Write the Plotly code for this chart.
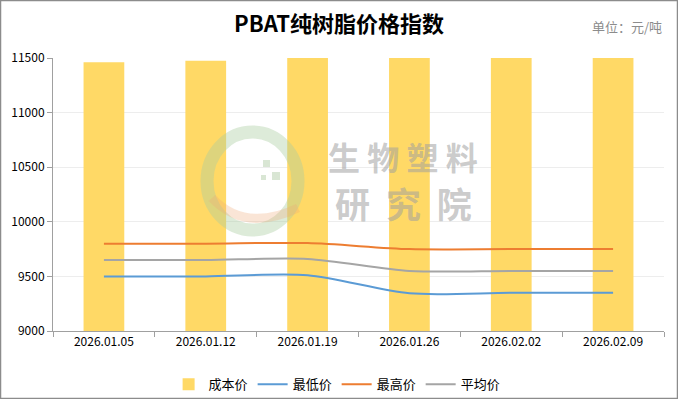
import plotly.graph_objects as go

categories = ["2026.01.05", "2026.01.12", "2026.01.19", "2026.01.26", "2026.02.02", "2026.02.09"]
cost_price = [11460, 11475, 11650, 11650, 11650, 11650]
min_price = [9500, 9500, 9510, 9345, 9350, 9350]
max_price = [9800, 9800, 9805, 9750, 9750, 9750]
avg_price = [9650, 9650, 9660, 9550, 9550, 9550]
y_ticks = [9000, 9500, 10000, 10500, 11000, 11500]
y_tick_text = ["9000", "9500", "10000", "10500", "11000", "11500"]

FONT = "Noto Sans CJK SC, Microsoft YaHei, sans-serif"

fig = go.Figure()
fig.add_trace(go.Bar(x=categories, y=cost_price, name="成本价",
                     marker=dict(color="#FFD966", line=dict(width=0)), width=0.4))
fig.add_trace(go.Scatter(x=categories, y=min_price, name="最低价", mode="lines",
                         line=dict(color="#5B9BD5", width=2, shape="spline", smoothing=0.8)))
fig.add_trace(go.Scatter(x=categories, y=max_price, name="最高价", mode="lines",
                         line=dict(color="#ED7D31", width=2, shape="spline", smoothing=0.8)))
fig.add_trace(go.Scatter(x=categories, y=avg_price, name="平均价", mode="lines",
                         line=dict(color="#A5A5A5", width=2, shape="spline", smoothing=0.8)))

fig.update_layout(
    width=678, height=399,
    margin=dict(l=53, r=14, t=58, b=68, autoexpand=False),
    paper_bgcolor="white", plot_bgcolor="white",
    font=dict(family=FONT, size=11, color="#000000"),
    showlegend=True,
    legend=dict(orientation="h", x=0.465, xanchor="center", y=-0.14, yanchor="top",
                font=dict(size=13, color="#000"), itemwidth=30, traceorder="normal",
                bgcolor="rgba(0,0,0,0)"),
    title=dict(text="<b>PBAT纯树脂价格指数</b>", x=0.5, xanchor="center", y=0.94, yanchor="middle",
               font=dict(size=22, color="#000", family=FONT)),
    bargap=0.6,
)
fig.update_xaxes(type="category", showline=True, linecolor="#A0A0A0", linewidth=1,
                 ticks="outside", tickson="boundaries", ticklen=5, tickcolor="#A0A0A0",
                 showgrid=False, tickfont=dict(size=12, color="#000"), automargin=False)
fig.update_yaxes(range=[9000, 11500], tickvals=y_ticks, ticktext=y_tick_text,
                 showline=True, linecolor="#A0A0A0",
                 linewidth=1, ticks="outside", ticklen=5, tickcolor="#A0A0A0",
                 showgrid=True, gridcolor="#EDEDED", gridwidth=1, zeroline=False,
                 tickfont=dict(size=12, color="#000"), automargin=False)

# unit label
fig.add_annotation(text="单位：元/吨", xref="paper", yref="paper", x=1.0, y=1.0,
                   xanchor="right", yanchor="bottom", yshift=20, showarrow=False,
                   font=dict(size=13, color="#8C8C8C", family=FONT))

# watermark logo (faint)
fig.add_shape(type="circle", xref="paper", yref="paper", layer="above",
              x0=(207 - 53) / 611, x1=(298 - 53) / 611,
              y0=(331 - 230) / 273, y1=(331 - 132) / 273,
              line=dict(color="rgba(170,205,160,0.4)", width=13),
              fillcolor="rgba(255,255,255,0)")
fig.add_shape(type="path", xref="paper", yref="paper", layer="above",
              path="M {:.4f} {:.4f} Q {:.4f} {:.4f} {:.4f} {:.4f}".format(
                  (212 - 53) / 611, (331 - 198) / 273,
                  (245 - 53) / 611, (331 - 233) / 273,
                  (298 - 53) / 611, (331 - 208) / 273),
              line=dict(color="rgba(240,170,120,0.3)", width=9))
for (sx, sy, s) in [(263, 160, 7), (272, 172, 8), (261, 175, 5)]:
    fig.add_shape(type="rect", xref="paper", yref="paper", layer="above",
                  x0=(sx - 53) / 611, x1=(sx + s - 53) / 611,
                  y0=(331 - sy - s) / 273, y1=(331 - sy) / 273,
                  line=dict(width=0), fillcolor="rgba(170,200,160,0.45)")

fig.add_annotation(text="<b>生 物 塑 料</b>", xref="paper", yref="paper",
                   x=(403 - 53) / 611, y=(331 - 156) / 273, showarrow=False,
                   font=dict(size=32, color="rgba(160,160,160,0.55)", family=FONT))
fig.add_annotation(text="<b>研  究  院</b>", xref="paper", yref="paper",
                   x=(403 - 53) / 611, y=(331 - 202) / 273, showarrow=False,
                   font=dict(size=35, color="rgba(160,160,160,0.55)", family=FONT))

# outer border
fig.add_shape(type="rect", xref="paper", yref="paper", layer="above",
              x0=-52.5 / 611, x1=1 + 13.5 / 611, y0=-67.5 / 273, y1=1 + 57.5 / 273,
              line=dict(color="#8C8C8C", width=1.5))

fig.write_html("out.html", config={"displayModeBar": False})

# remove the default page margin so the figure sits at the window's top-left corner
with open("out.html", "r", encoding="utf-8") as f:
    html = f.read()
html = html.replace("<body>", '<body style="margin:0;padding:0;overflow:hidden">', 1)
with open("out.html", "w", encoding="utf-8") as f:
    f.write(html)
